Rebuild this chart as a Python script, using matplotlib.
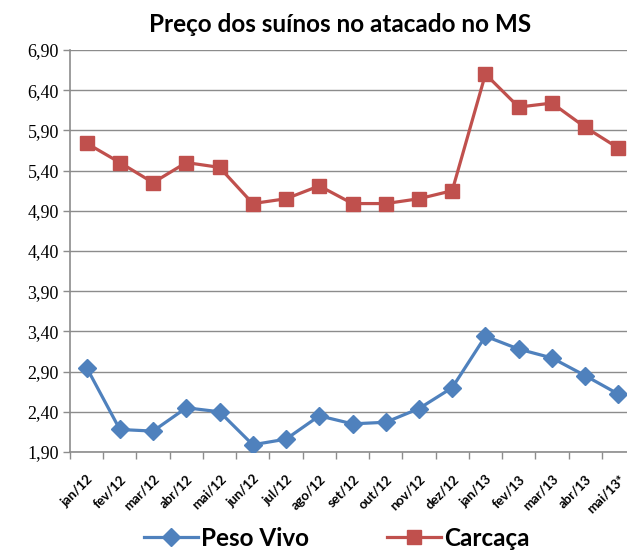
import matplotlib
matplotlib.use("Agg")
import matplotlib.pyplot as plt
from matplotlib.ticker import FixedLocator

# dados
meses = ["jan/12", "fev/12", "mar/12", "abr/12", "mai/12", "jun/12", "jul/12",
         "ago/12", "set/12", "out/12", "nov/12", "dez/12", "jan/13", "fev/13",
         "mar/13", "abr/13", "mai/13*"]
peso_vivo = [2.95, 2.18, 2.16, 2.45, 2.40, 1.99, 2.06, 2.35, 2.25, 2.27,
             2.44, 2.70, 3.34, 3.18, 3.07, 2.85, 2.62]
carcaca = [5.74, 5.50, 5.25, 5.50, 5.44, 4.99, 5.05, 5.21, 4.99, 4.99,
           5.05, 5.15, 6.60, 6.19, 6.24, 5.94, 5.68]
yticks = [1.90, 2.40, 2.90, 3.40, 3.90, 4.40, 4.90, 5.40, 5.90, 6.40, 6.90]

azul = "#4F81BD"
vermelho = "#C0504D"
cinza = "#8C8C8C"

fig = plt.figure(figsize=(6.27, 5.52), dpi=100)
ax = fig.add_axes([70 / 627, 1 - 452 / 552, 565 / 627, 402 / 552])

x = list(range(len(meses)))
ax.plot(x, peso_vivo, color=azul, lw=2.3, marker="D", ms=9,
        label="Peso Vivo", zorder=3)
ax.plot(x, carcaca, color=vermelho, lw=2.3, marker="s", ms=10,
        label="Carcaça", zorder=3)

ax.set_xlim(-0.5, len(meses) - 0.5)
ax.set_ylim(1.90, 6.90)
ax.set_yticks(yticks)
ax.set_yticklabels([f"{v:.2f}".replace(".", ",") for v in yticks],
                   fontfamily="Liberation Serif", fontsize=13)
ax.grid(axis="y", color=cinza, lw=1.0)
ax.set_axisbelow(True)

ax.set_xticks(x)
ax.set_xticklabels(meses, rotation=45, ha="right", rotation_mode="anchor",
                   fontsize=9.5, fontweight="bold", family="Lato")
ax.xaxis.set_minor_locator(FixedLocator([i - 0.5 for i in range(len(meses) + 1)]))
ax.tick_params(axis="x", which="major", length=0, pad=15)
ax.tick_params(axis="x", which="minor", length=5, color=cinza, width=1)
ax.tick_params(axis="y", length=5, color=cinza, width=1, pad=3)

for s in ["top", "right"]:
    ax.spines[s].set_visible(False)
for s in ["left", "bottom"]:
    ax.spines[s].set_color(cinza)
    ax.spines[s].set_linewidth(1.2)

fig.text(340 / 627, 1 - 24 / 552, "Preço dos suínos no atacado no MS",
         ha="center", va="center", fontsize=17.5, fontweight="bold", family="Lato")

fig.legend(loc="center", bbox_to_anchor=(337 / 627, 1 - 538 / 552), ncol=2,
           frameon=False, prop={"family": "Lato", "weight": "bold", "size": 17.5},
           handlelength=2.2, columnspacing=3.2, handletextpad=0.15)

fig.savefig("out.png", dpi=100)
